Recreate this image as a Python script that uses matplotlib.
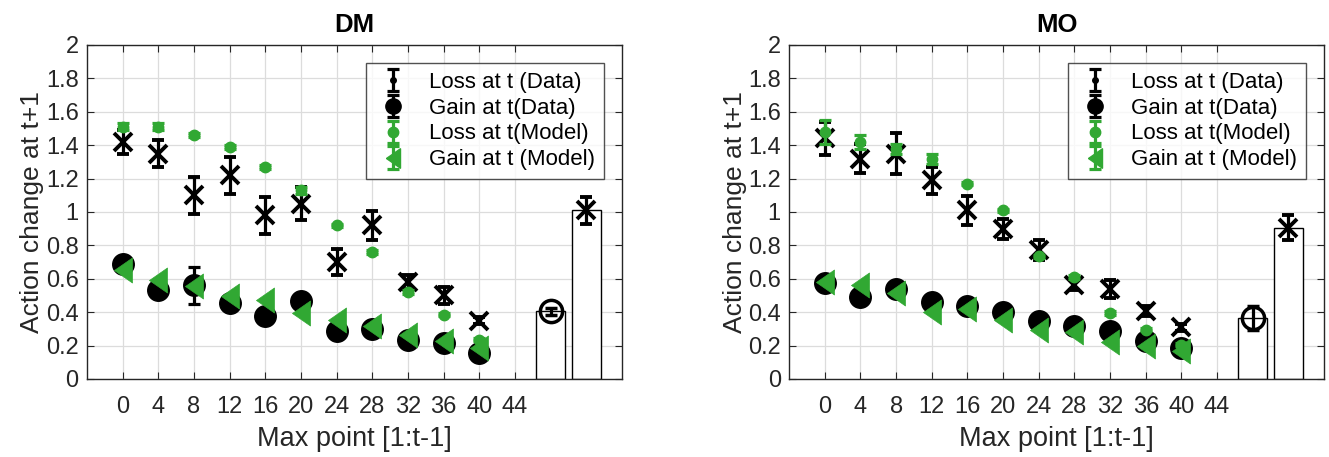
"""
Action change at t+1 versus the running max point, data vs model,
for the DM and MO groups.
"""

import numpy as np
import matplotlib
matplotlib.use("Agg")
import matplotlib.pyplot as plt

plt.rcParams['font.family'] = ['Liberation Sans', 'DejaVu Sans']

GREEN = '#31a833'
DARK = '#262626'
# narrow left-pointing triangle, closer to MATLAB's '<'
LEFT_TRI = [(-0.72, 0.0), (0.72, 1.0), (0.72, -1.0), (-0.72, 0.0)]

max_point = [0, 4, 8, 12, 16, 20, 24, 28, 32, 36, 40]
bar_pos = [48, 52]

# ---- DM ----
dm_loss_data = [1.42, 1.35, 1.10, 1.22, 0.98, 1.05, 0.70, 0.92, 0.58, 0.50, 0.35]
dm_loss_data_err = [0.07, 0.08, 0.11, 0.11, 0.11, 0.10, 0.08, 0.085, 0.04, 0.05, 0.02]
dm_gain_data = [0.69, 0.53, 0.56, 0.455, 0.38, 0.465, 0.29, 0.30, 0.235, 0.215, 0.155]
dm_gain_data_err = [0.03, 0.03, 0.11, 0.02, 0.02, 0.02, 0.02, 0.02, 0.02, 0.02, 0.02]
dm_loss_model = [1.51, 1.51, 1.46, 1.39, 1.27, 1.13, 0.92, 0.76, 0.52, 0.385, 0.235]
dm_loss_model_err = [0.02, 0.02, 0.01, 0.01, 0.01, 0.02, 0.01, 0.01, 0.01, 0.01, 0.01]
dm_gain_model = [0.65, 0.59, 0.555, 0.495, 0.475, 0.395, 0.355, 0.315, 0.265, 0.225, 0.185]
dm_gain_model_err = [0.01] * 11
dm_gain_all, dm_gain_all_err = 0.405, 0.02
dm_loss_all, dm_loss_all_err = 1.01, 0.08

# ---- MO ----
mo_loss_data = [1.44, 1.32, 1.35, 1.19, 1.01, 0.90, 0.77, 0.565, 0.54, 0.41, 0.31]
mo_loss_data_err = [0.10, 0.085, 0.12, 0.08, 0.085, 0.06, 0.06, 0.03, 0.055, 0.03, 0.02]
mo_gain_data = [0.575, 0.49, 0.54, 0.46, 0.435, 0.40, 0.345, 0.315, 0.29, 0.225, 0.185]
mo_gain_data_err = [0.02, 0.04, 0.03, 0.02, 0.02, 0.02, 0.02, 0.02, 0.02, 0.02, 0.02]
mo_loss_model = [1.48, 1.42, 1.38, 1.315, 1.17, 1.01, 0.735, 0.61, 0.395, 0.295, 0.205]
mo_loss_model_err = [0.07, 0.04, 0.03, 0.03, 0.01, 0.01, 0.01, 0.01, 0.01, 0.01, 0.01]
mo_gain_model = [0.58, 0.56, 0.515, 0.40, 0.42, 0.355, 0.295, 0.28, 0.22, 0.195, 0.165]
mo_gain_model_err = [0.01] * 11
mo_gain_all, mo_gain_all_err = 0.365, 0.07
mo_loss_all, mo_loss_all_err = 0.905, 0.075

legend_labels = ['Loss at t (Data)', 'Gain at t(Data)', 'Loss at t(Model)', 'Gain at t (Model)']


def draw_panel(ax, title, loss_d, loss_d_err, gain_d, gain_d_err,
               loss_m, loss_m_err, gain_m, gain_m_err,
               gain_all, gain_all_err, loss_all, loss_all_err):
    eb = dict(linestyle='none', capsize=4, elinewidth=2.3, capthick=2.3)

    # summary bars at the right
    ax.bar(bar_pos, [gain_all, loss_all], width=3.2, color='white',
           edgecolor='black', linewidth=1.0, zorder=2)

    ax.errorbar(max_point, loss_d, yerr=loss_d_err, color='black', marker='x',
                markersize=13.5, markeredgewidth=2.8, zorder=3, **eb)
    ax.errorbar(max_point, gain_d, yerr=gain_d_err, color='black', marker='o',
                markersize=15.5, zorder=3, **eb)
    ax.errorbar(max_point, loss_m, yerr=loss_m_err, color=GREEN, marker='o',
                markersize=7.5, zorder=4, **eb)
    ax.errorbar(max_point, gain_m, yerr=gain_m_err, color=GREEN, marker=LEFT_TRI,
                markersize=18, markeredgewidth=0.5, zorder=4, **eb)

    ax.errorbar([bar_pos[0]], [gain_all], yerr=[gain_all_err], color='black',
                marker='o', markersize=16, markerfacecolor='none',
                markeredgewidth=2.5, zorder=5, **eb)
    ax.errorbar([bar_pos[1]], [loss_all], yerr=[loss_all_err], color='black',
                marker='x', markersize=13.5, markeredgewidth=2.8, zorder=5, **eb)

    # legend proxies (MATLAB-style errorbar glyphs)
    handles = [
        ax.errorbar([np.nan], [np.nan], yerr=[np.nan], color='black', marker='o',
                    markersize=4, **eb),
        ax.errorbar([np.nan], [np.nan], yerr=[np.nan], color='black', marker='o',
                    markersize=11, **eb),
        ax.errorbar([np.nan], [np.nan], yerr=[np.nan], color=GREEN, marker='o',
                    markersize=7.5, **eb),
        ax.errorbar([np.nan], [np.nan], yerr=[np.nan], color=GREEN, marker=LEFT_TRI,
                    markersize=14, **eb),
    ]
    leg = ax.legend(handles, legend_labels, loc='upper right', fontsize=16,
                    frameon=True, fancybox=False, handlelength=1.6,
                    handletextpad=0.85, borderpad=0.4, labelspacing=0.22,
                    borderaxespad=0.8)
    leg.get_frame().set_edgecolor(DARK)
    leg.get_frame().set_linewidth(1.0)

    ax.set_xlim(-4, 56)
    ax.set_ylim(0, 2)
    ax.set_xticks(np.arange(0, 45, 4))
    ax.set_yticks(np.arange(0, 2.01, 0.2))
    ax.set_yticklabels(['0', '0.2', '0.4', '0.6', '0.8', '1', '1.2', '1.4',
                        '1.6', '1.8', '2'])
    ax.grid(True, color='#dcdcdc', linewidth=0.9)
    ax.set_axisbelow(True)
    ax.tick_params(direction='in', top=True, right=True, length=5,
                   labelsize=17, colors=DARK)
    ax.tick_params(axis='x', pad=12)
    ax.tick_params(axis='y', pad=6)
    for sp in ax.spines.values():
        sp.set_color(DARK)
        sp.set_linewidth(1.0)
    ax.set_xlabel('Max point [1:t-1]', fontsize=19.5, color=DARK, labelpad=6)
    ax.set_ylabel('Action change at t+1', fontsize=19, color=DARK, labelpad=1)
    ax.set_title(title, fontsize=18.5, fontweight='bold', pad=9)


fig = plt.figure(figsize=(13.29, 4.57), dpi=100)
ax1 = fig.add_axes([0.0655, 0.1707, 0.4025, 0.7309])
ax2 = fig.add_axes([0.5938, 0.1707, 0.4025, 0.7309])

draw_panel(ax1, 'DM', dm_loss_data, dm_loss_data_err, dm_gain_data, dm_gain_data_err,
           dm_loss_model, dm_loss_model_err, dm_gain_model, dm_gain_model_err,
           dm_gain_all, dm_gain_all_err, dm_loss_all, dm_loss_all_err)
draw_panel(ax2, 'MO', mo_loss_data, mo_loss_data_err, mo_gain_data, mo_gain_data_err,
           mo_loss_model, mo_loss_model_err, mo_gain_model, mo_gain_model_err,
           mo_gain_all, mo_gain_all_err, mo_loss_all, mo_loss_all_err)

fig.savefig('out.png', dpi=100)
